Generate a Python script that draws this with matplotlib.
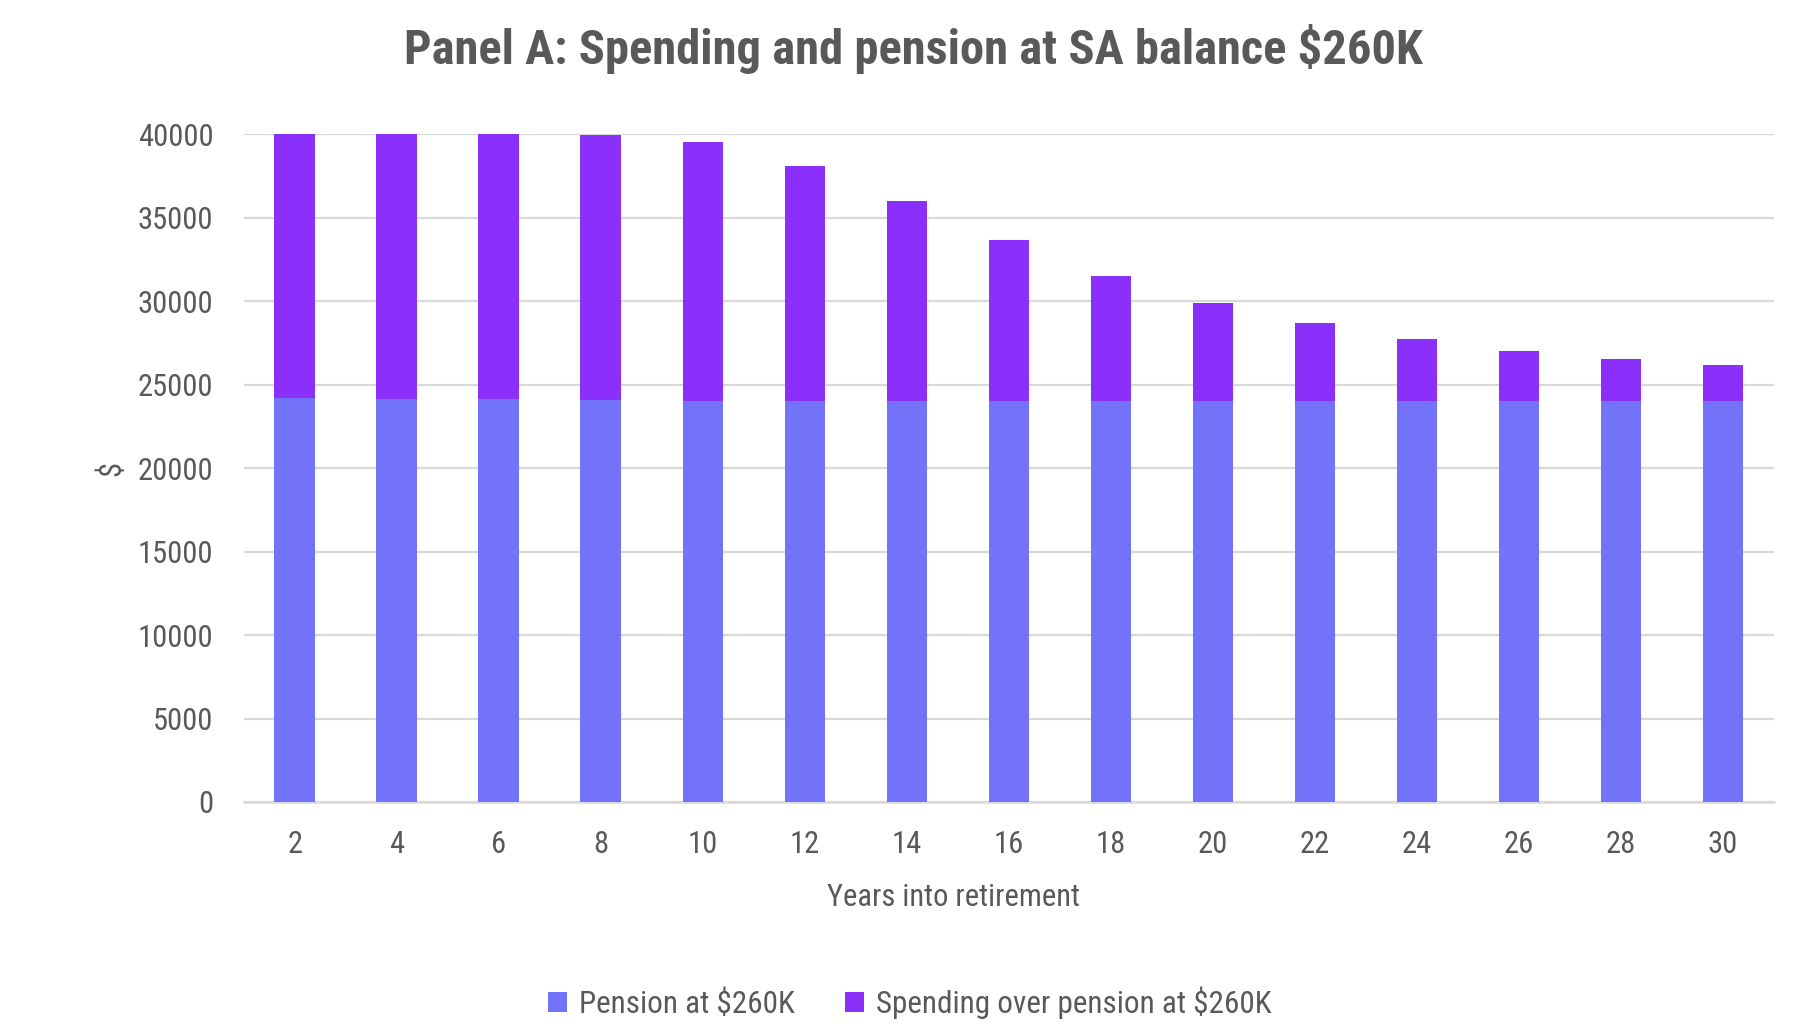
import matplotlib
matplotlib.use("Agg")
import matplotlib.pyplot as plt
import numpy as np

years = ["2", "4", "6", "8", "10", "12", "14", "16", "18", "20", "22", "24", "26", "28", "30"]
pension = [24200, 24150, 24150, 24070, 24000, 24000, 24000, 24000, 24000, 24000, 24000, 24000, 24000, 24000, 24000]
total_spending = [40000, 40000, 40000, 39950, 39500, 38100, 35970, 33630, 31480, 29860, 28660, 27700, 27030, 26530, 26170]
spending_over = [t - p for t, p in zip(total_spending, pension)]

plt.rcParams['font.family'] = ['Liberation Sans Narrow', 'Roboto Condensed', 'Liberation Sans', 'DejaVu Sans']
text_color = "#595959"
c_pension = "#7373FA"
c_spend = "#8A30FA"
grid_c = "#D9D9D9"

fig = plt.figure(figsize=(18.2, 10.24), dpi=100)
ax = fig.add_axes([0.134, 0.2168, 0.8407, 0.6523])

x = np.arange(len(years))
ax.bar(x, pension, width=0.4, color=c_pension, label="Pension at $260K", zorder=3)
ax.bar(x, spending_over, width=0.4, bottom=pension, color=c_spend,
       label="Spending over pension at $260K", zorder=3)

ax.set_xlim(-0.5, len(years) - 0.5)
ax.set_ylim(0, 40000)
ax.set_yticks(np.arange(0, 40001, 5000))
ax.set_yticklabels([str(v) for v in range(0, 40001, 5000)])
ax.set_xticks(x)
ax.set_xticklabels(years)

ax.yaxis.grid(True, color=grid_c, linewidth=1.6, zorder=0)
ax.set_axisbelow(True)
for s in ["top", "right", "left"]:
    ax.spines[s].set_visible(False)
ax.spines["bottom"].set_color(grid_c)
ax.spines["bottom"].set_linewidth(1.8)

ax.tick_params(axis="both", length=0, labelsize=22, labelcolor=text_color)
ax.tick_params(axis="y", pad=22)
ax.tick_params(axis="x", pad=20)

ax.set_xlabel("Years into retirement", fontsize=22, color=text_color)
ax.xaxis.set_label_coords(0.464, -0.122)
ax.set_ylabel("$", fontsize=22, color=text_color, labelpad=8)

fig.suptitle("Panel A: Spending and pension at SA balance $260K", x=0.502, y=0.977,
             fontsize=35, fontweight="bold", color=text_color, va="top")

leg = fig.legend(loc="center", bbox_to_anchor=(0.5, 0.021), ncol=2, frameon=False,
                 fontsize=22.4, labelcolor=text_color, handlelength=0.6, handleheight=0.6,
                 handletextpad=0.4, columnspacing=1.6)

fig.savefig("out.png", dpi=100)
